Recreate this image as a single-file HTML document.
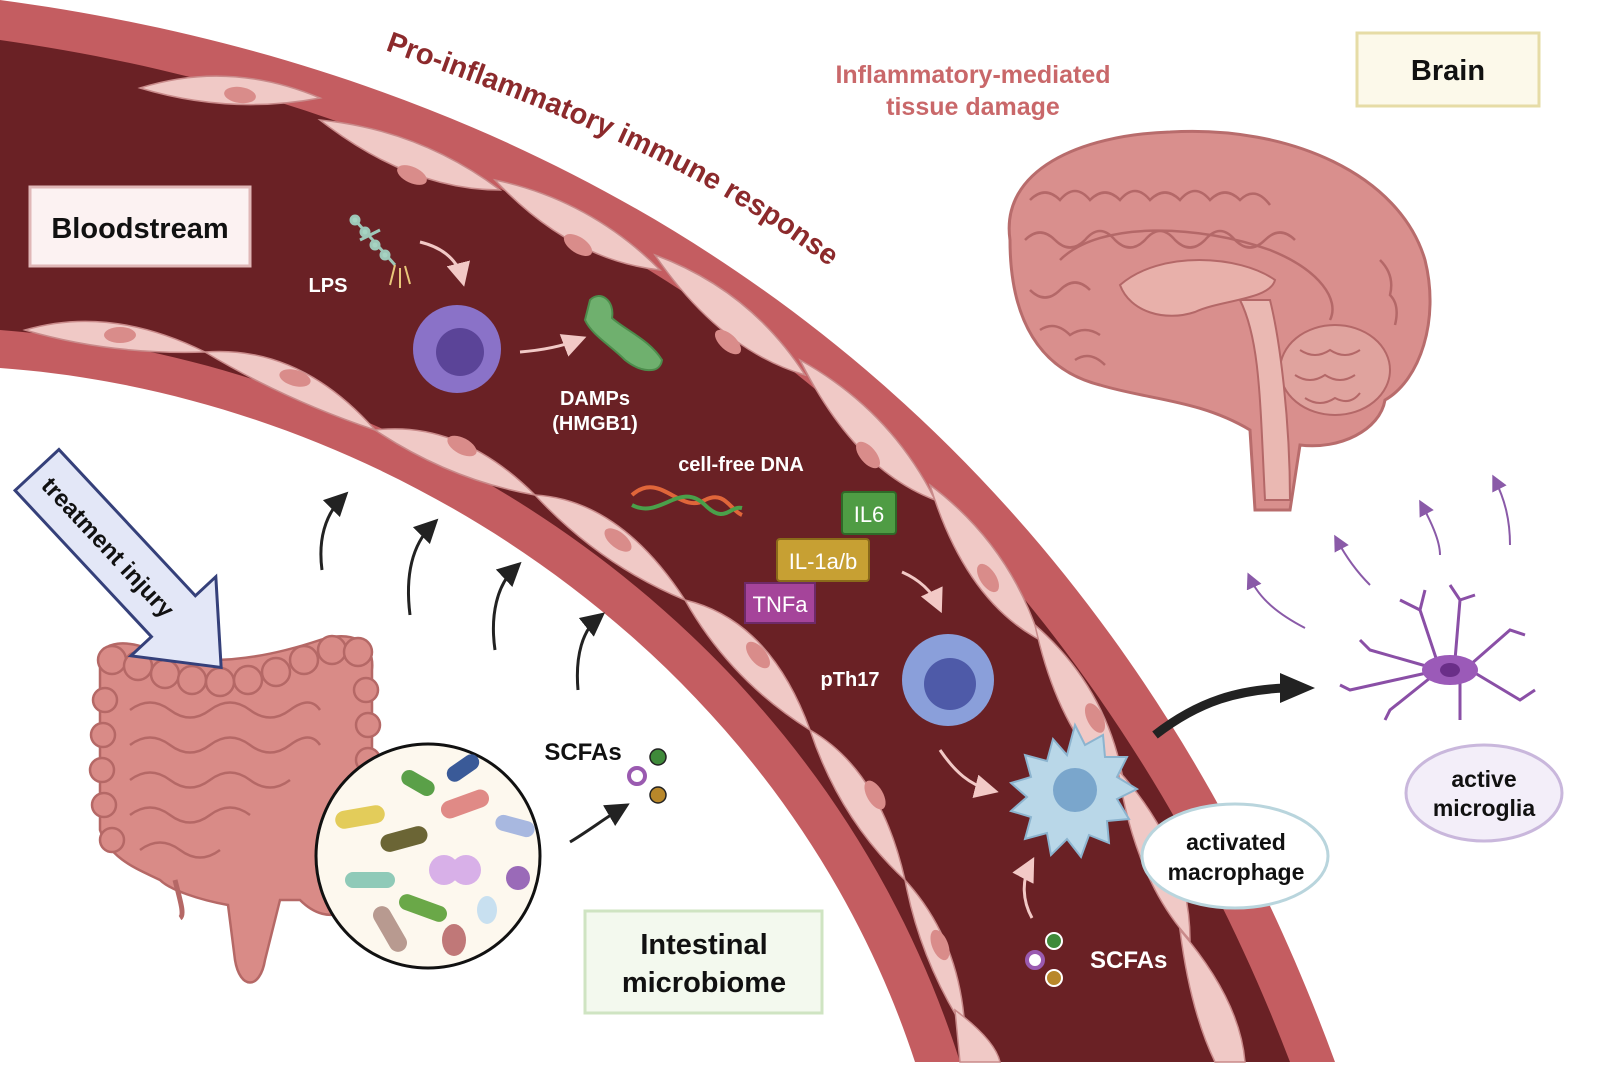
<!DOCTYPE html>
<html><head><meta charset="utf-8"><style>
html,body{margin:0;padding:0;background:#fff;}
svg{display:block;font-family:"Liberation Sans",Arial,sans-serif;}
</style></head><body>
<svg width="1600" height="1088" viewBox="0 0 1600 1088" xmlns="http://www.w3.org/2000/svg">
<defs>
<marker id="ah" markerWidth="8" markerHeight="8" refX="5" refY="4" orient="auto"><path d="M0,0 L8,4 L0,8 Z" fill="#222"/></marker>
<marker id="ahp" markerWidth="8" markerHeight="8" refX="5" refY="4" orient="auto"><path d="M0,0 L8,4 L0,8 Z" fill="#f2c9c6"/></marker>
<marker id="ahv" markerWidth="8" markerHeight="8" refX="5" refY="4" orient="auto"><path d="M0,0 L8,4 L0,8 Z" fill="#8a5aa8"/></marker>
</defs>
<rect width="1600" height="1088" fill="#fff"/>
<!-- vessel wall -->
<path d="M0,0 C600,80 1100,420 1335,1062 L915,1062 C780,650 380,395 0,368 Z" fill="#c45d61"/>
<!-- lumen -->
<path d="M0,40 C570,120 1060,460 1290,1062 L960,1062 C820,620 400,360 0,330 Z" fill="#6a2125"/>
<!-- endothelial cells top -->
<g fill="#f0c9c6" stroke="#c98a8a" stroke-width="1.5">
<path d="M140,88 Q230,60 320,98 Q230,115 140,88 Z"/>
<path d="M320,120 Q420,130 500,190 Q410,190 320,120 Z"/>
<path d="M495,180 Q590,200 660,270 Q570,260 495,180 Z"/>
<path d="M655,255 Q750,290 805,375 Q720,350 655,255 Z"/>
<path d="M800,360 Q890,410 935,500 Q855,470 800,360 Z"/>
<path d="M930,485 Q1010,545 1040,640 Q965,600 930,485 Z"/>
<path d="M1035,625 Q1110,690 1125,790 Q1060,740 1035,625 Z"/>
<path d="M1118,770 Q1190,850 1190,940 Q1135,880 1118,770 Z"/>
<path d="M1180,930 Q1240,1000 1245,1062 L1215,1062 Q1190,1010 1180,930 Z"/>
</g>
<g fill="#d98c8a">
<ellipse cx="240" cy="95" rx="16" ry="8" transform="rotate(8 240 95)"/>
<ellipse cx="412" cy="175" rx="16" ry="8" transform="rotate(25 412 175)"/>
<ellipse cx="578" cy="245" rx="16" ry="8" transform="rotate(33 578 245)"/>
<ellipse cx="728" cy="342" rx="16" ry="8" transform="rotate(42 728 342)"/>
<ellipse cx="868" cy="455" rx="16" ry="8" transform="rotate(50 868 455)"/>
<ellipse cx="988" cy="578" rx="16" ry="8" transform="rotate(57 988 578)"/>
<ellipse cx="1095" cy="718" rx="16" ry="8" transform="rotate(64 1095 718)"/>
<ellipse cx="1165" cy="858" rx="16" ry="8" transform="rotate(70 1165 858)"/>
</g>
<!-- endothelial cells bottom -->
<g fill="#f0c9c6" stroke="#c98a8a" stroke-width="1.5">
<path d="M25,330 Q110,305 205,352 Q110,355 25,330 Z"/>
<path d="M205,352 Q300,345 375,430 Q285,400 205,352 Z"/>
<path d="M375,430 Q460,420 535,495 Q450,480 375,430 Z"/>
<path d="M535,495 Q620,500 685,600 Q600,565 535,495 Z"/>
<path d="M685,600 Q770,620 810,730 Q730,680 685,600 Z"/>
<path d="M810,730 Q880,770 905,880 Q840,820 810,730 Z"/>
<path d="M905,880 Q960,940 965,1030 Q920,960 905,880 Z"/>
<path d="M955,1010 Q995,1040 1000,1062 L960,1062 Z"/>
</g>
<g fill="#d98c8a">
<ellipse cx="120" cy="335" rx="16" ry="8"/>
<ellipse cx="295" cy="378" rx="16" ry="8" transform="rotate(15 295 378)"/>
<ellipse cx="462" cy="446" rx="16" ry="8" transform="rotate(28 462 446)"/>
<ellipse cx="618" cy="540" rx="16" ry="8" transform="rotate(38 618 540)"/>
<ellipse cx="758" cy="655" rx="16" ry="8" transform="rotate(50 758 655)"/>
<ellipse cx="875" cy="795" rx="16" ry="8" transform="rotate(60 875 795)"/>
<ellipse cx="940" cy="945" rx="16" ry="8" transform="rotate(68 940 945)"/>
</g>
<!-- Pro-inflammatory text along curve -->
<path id="tp" d="M385,50 C550,110 720,170 870,300" fill="none"/>
<text font-size="29" font-weight="bold" fill="#8c2a2c"><textPath href="#tp">Pro-inflammatory immune response</textPath></text>
<text x="973" y="83" font-size="25" font-weight="bold" fill="#c9686a" text-anchor="middle">Inflammatory-mediated</text>
<text x="973" y="115" font-size="25" font-weight="bold" fill="#c9686a" text-anchor="middle">tissue damage</text>
<!-- Brain label -->
<rect x="1357" y="33" width="182" height="73" fill="#fcf9ea" stroke="#e6dca6" stroke-width="3"/>
<text x="1448" y="80" font-size="29" font-weight="bold" fill="#111" text-anchor="middle">Brain</text>
<!-- Bloodstream label -->
<rect x="30" y="187" width="220" height="79" fill="#fcf2f2" stroke="#e0b7b7" stroke-width="3"/>
<text x="140" y="238" font-size="29" font-weight="bold" fill="#111" text-anchor="middle">Bloodstream</text>
<!-- Brain -->
<g>
<path d="M1010,240 C1000,170 1080,135 1170,132 C1290,125 1400,175 1425,260 C1440,320 1420,380 1385,400 C1380,430 1340,450 1300,445 L1290,510 L1255,510 L1250,430 C1200,400 1150,400 1100,385 C1040,370 1010,320 1010,240 Z" fill="#d98f8d" stroke="#b86c6c" stroke-width="3"/>
<g stroke="#b46868" stroke-width="2.5" fill="none">
<path d="M1030,200 q15,-15 30,0 q15,-18 30,0 q15,-15 30,0 q15,-18 30,0 q15,-15 30,0 q15,-18 30,0 q15,-15 30,0 q15,-15 30,5"/>
<path d="M1025,240 q15,-15 30,0 q15,15 30,0 q15,-18 30,0 q15,15 30,0 q15,-18 30,0 q15,15 30,0 q15,-18 30,0 q15,15 30,0 q15,-15 30,0"/>
<path d="M1030,290 q15,15 30,0 q15,-15 30,0 M1380,260 q15,15 10,35 q10,10 5,30 M1040,330 q15,-10 30,5 q15,-10 30,0 M1075,360 q15,-10 30,5"/>
<path d="M1060,260 C1100,220 1200,225 1270,250 C1320,270 1340,300 1330,320"/>
</g>
<path d="M1120,285 C1160,250 1240,255 1275,280 C1270,300 1220,300 1195,312 C1165,322 1130,312 1120,285 Z" fill="#e8b0aa" stroke="#b46868" stroke-width="2"/>
<ellipse cx="1335" cy="370" rx="55" ry="45" fill="#e0a39e" stroke="#b46868" stroke-width="2"/>
<path d="M1300,350 q15,10 30,0 q15,10 30,0 M1295,375 q15,10 30,0 q15,10 30,0 M1305,398 q15,10 30,0 q15,8 25,-5" stroke="#b46868" stroke-width="2" fill="none"/>
<path d="M1240,300 C1260,340 1260,400 1265,500 L1290,500 C1290,420 1280,340 1270,300 Z" fill="#eab8b2" stroke="#b46868" stroke-width="2"/>
</g>
<!-- microglia arrows -->
<g stroke="#8a5aa8" stroke-width="2" fill="none" marker-end="url(#ahv)">
<path d="M1305,628 C1280,615 1260,600 1250,578"/>
<path d="M1370,585 C1355,570 1345,555 1337,540"/>
<path d="M1440,555 C1440,540 1430,520 1422,505"/>
<path d="M1510,545 C1510,520 1505,500 1495,480"/>
</g>
<!-- microglia -->
<g stroke="#8a4fa6" stroke-width="3" fill="none">
<path d="M1440,670 L1420,610 L1400,600 M1420,610 L1425,590 M1440,670 L1370,650 L1360,640 M1440,670 L1350,690 L1340,685 M1440,670 L1390,710 L1385,720 M1460,680 L1460,720 M1470,670 L1520,700 L1535,690 M1470,665 L1510,630 L1525,635 M1455,660 L1460,600 L1450,585 M1460,600 L1475,595"/>
</g>
<ellipse cx="1450" cy="670" rx="28" ry="15" fill="#9b5ab8"/>
<ellipse cx="1450" cy="670" rx="10" ry="7" fill="#6a2e88"/>
<ellipse cx="1484" cy="793" rx="78" ry="48" fill="#f3eef9" stroke="#c9b7dc" stroke-width="3"/>
<text x="1484" y="787" font-size="23" font-weight="bold" fill="#111" text-anchor="middle">active</text>
<text x="1484" y="816" font-size="23" font-weight="bold" fill="#111" text-anchor="middle">microglia</text>
<!-- big black arrow -->
<path d="M1155,735 C1200,700 1240,690 1285,688" stroke="#222" stroke-width="9" fill="none"/>
<path d="M1280,673 L1315,688 L1280,703 Z" fill="#222"/>
<!-- LPS -->
<g stroke="#9ec7b8" stroke-width="3" fill="#a6d4c2"><path d="M355,220 L395,265 M360,240 L380,230" fill="none"/><circle cx="355" cy="220" r="4"/><circle cx="365" cy="232" r="4"/><circle cx="375" cy="245" r="4"/><circle cx="385" cy="255" r="4"/></g>
<g stroke="#e8c77a" stroke-width="2" fill="none"><path d="M395,265 l-5,20 M400,268 l0,20 M405,266 l5,18"/></g>
<text x="328" y="292" font-size="20" font-weight="bold" fill="#fff" text-anchor="middle">LPS</text>
<g stroke="#f2c9c6" stroke-width="3" fill="none" marker-end="url(#ahp)">
<path d="M420,242 C445,248 458,262 462,278"/>
<path d="M520,352 C545,350 565,345 578,340"/>
<path d="M902,572 C920,580 932,592 938,605"/>
<path d="M940,750 C955,772 970,785 990,790"/>
<path d="M1032,918 C1022,900 1022,880 1030,865"/>
</g>
<!-- monocyte -->
<circle cx="457" cy="349" r="44" fill="#8a72c8"/>
<circle cx="460" cy="352" r="24" fill="#5b4498"/>
<!-- DAMPs -->
<path d="M590,300 C600,290 615,300 612,318 C625,330 650,340 662,360 C660,375 640,372 625,360 C610,345 592,335 585,320 Z" fill="#6fb06e" stroke="#4d8c4c" stroke-width="2"/>
<text x="595" y="405" font-size="20" font-weight="bold" fill="#fff" text-anchor="middle">DAMPs</text>
<text x="595" y="430" font-size="20" font-weight="bold" fill="#fff" text-anchor="middle">(HMGB1)</text>
<text x="741" y="471" font-size="20" font-weight="bold" fill="#fff" text-anchor="middle">cell-free DNA</text>
<!-- DNA -->
<path d="M632,495 C660,470 680,515 705,500 C725,490 730,510 742,515" stroke="#e0663a" stroke-width="4" fill="none"/>
<path d="M632,505 C660,520 680,480 705,505 C725,525 730,505 742,508" stroke="#4aa04a" stroke-width="4" fill="none"/>
<!-- cytokines -->
<rect x="842" y="492" width="54" height="42" fill="#4f9c44" stroke="#2f6a28" stroke-width="2" rx="3"/>
<text x="869" y="522" font-size="22" fill="#fff" text-anchor="middle">IL6</text>
<rect x="777" y="539" width="92" height="42" fill="#c7a033" stroke="#8a6a1a" stroke-width="2" rx="3"/>
<text x="823" y="569" font-size="22" fill="#fff" text-anchor="middle">IL-1a/b</text>
<rect x="745" y="583" width="70" height="40" fill="#a5449a" stroke="#6e2a68" stroke-width="2"/>
<text x="780" y="612" font-size="22" fill="#fff" text-anchor="middle">TNFa</text>
<!-- pTh17 -->
<circle cx="948" cy="680" r="46" fill="#8a9fda"/>
<circle cx="950" cy="684" r="26" fill="#4e5aa8"/>
<text x="850" y="686" font-size="20" font-weight="bold" fill="#fff" text-anchor="middle">pTh17</text>
<!-- macrophage -->
<path d="M1075,725 l10,20 l18,-10 l2,22 l22,0 l-10,20 l20,12 l-20,10 l12,20 l-22,2 l2,22 l-20,-8 l-8,22 l-14,-18 l-16,16 l-4,-22 l-22,6 l6,-22 l-20,-6 l16,-14 l-16,-14 l20,-6 l-6,-22 l22,6 l6,-22 l14,16 Z" fill="#b9d7e8" stroke="#8cb4cf" stroke-width="2"/>
<circle cx="1075" cy="790" r="22" fill="#7aa6cc"/>
<ellipse cx="1235" cy="856" rx="93" ry="52" fill="#fff" stroke="#b9d5dd" stroke-width="3"/>
<text x="1236" y="850" font-size="23" font-weight="bold" fill="#111" text-anchor="middle">activated</text>
<text x="1236" y="880" font-size="23" font-weight="bold" fill="#111" text-anchor="middle">macrophage</text>
<!-- SCFAs lumen -->
<circle cx="1054" cy="941" r="8" fill="#3f8a3a" stroke="#fff" stroke-width="2"/>
<circle cx="1035" cy="960" r="8" fill="#fff" stroke="#9a5ab0" stroke-width="4"/>
<circle cx="1054" cy="978" r="8" fill="#b8872a" stroke="#fff" stroke-width="2"/>
<text x="1090" y="968" font-size="24" font-weight="bold" fill="#fff">SCFAs</text>
<!-- black upward arrows -->
<g stroke="#222" stroke-width="3" fill="none" marker-end="url(#ah)">
<path d="M322,570 C318,540 325,515 342,498"/>
<path d="M410,615 C405,575 412,545 432,525"/>
<path d="M495,650 C490,615 497,585 515,568"/>
<path d="M578,690 C575,655 583,630 598,618"/>
<path d="M570,842 C590,830 605,818 622,808"/>
</g>
<!-- intestine -->
<g fill="#d98b87" stroke="#b56866" stroke-width="2.5">
<path d="M100,660 C100,640 130,640 150,650 C200,668 260,660 320,640 C350,630 375,640 372,670 L372,880 C360,910 330,930 300,900 L280,900 L265,960 C260,990 240,990 235,960 L228,905 C200,900 170,890 160,880 C140,870 110,860 100,830 Z"/>
<circle cx="112" cy="660" r="14"/><circle cx="138" cy="666" r="14"/><circle cx="165" cy="674" r="14"/><circle cx="192" cy="680" r="14"/><circle cx="220" cy="682" r="14"/><circle cx="248" cy="680" r="14"/><circle cx="276" cy="672" r="14"/><circle cx="304" cy="660" r="14"/><circle cx="332" cy="650" r="14"/><circle cx="358" cy="652" r="14"/>
<circle cx="105" cy="700" r="12"/><circle cx="103" cy="735" r="12"/><circle cx="102" cy="770" r="12"/><circle cx="104" cy="805" r="12"/><circle cx="112" cy="840" r="12"/>
<circle cx="366" cy="690" r="12"/><circle cx="368" cy="725" r="12"/><circle cx="368" cy="760" r="12"/><circle cx="366" cy="795" r="12"/><circle cx="362" cy="830" r="12"/><circle cx="355" cy="865" r="12"/>
</g>
<path d="M175,880 C180,900 185,915 180,918" stroke="#b56866" stroke-width="5" fill="none"/>
<g stroke="#b56866" stroke-width="2.5" fill="none">
<path d="M130,710 q20,-15 40,0 q20,15 40,0 q20,-15 40,0 q20,15 40,0 q20,-15 30,0"/>
<path d="M130,745 q20,-15 40,0 q20,15 40,0 q20,-15 40,0 q20,15 40,0 q20,-15 30,0"/>
<path d="M130,780 q20,-15 40,0 q20,15 40,0 q20,-15 40,0 q20,15 40,0"/>
<path d="M130,815 q20,-15 40,0 q20,15 40,0 q20,-15 40,0"/>
<path d="M140,850 q20,-15 40,0 q20,15 40,0"/>
</g>
<!-- treatment injury arrow -->
<g transform="translate(37,470) rotate(47)">
<path d="M0,-30 L200,-30 L200,-58 L270,0 L200,58 L200,30 L0,30 Z" fill="#e3e7f7" stroke="#35407a" stroke-width="3"/>
<text x="105" y="9" font-size="24" font-weight="bold" fill="#111" text-anchor="middle">treatment injury</text>
</g>
<!-- microbiome circle -->
<circle cx="428" cy="856" r="112" fill="#fdf8ee" stroke="#111" stroke-width="3"/>
<g>
<rect x="335" y="808" width="50" height="18" rx="9" fill="#e3cc5a" transform="rotate(-10 360 817)"/>
<rect x="380" y="830" width="48" height="18" rx="9" fill="#6b6535" transform="rotate(-15 404 839)"/>
<rect x="400" y="775" width="36" height="16" rx="8" fill="#5aa048" transform="rotate(30 418 783)"/>
<rect x="440" y="795" width="50" height="18" rx="9" fill="#e08a86" transform="rotate(-20 465 804)"/>
<rect x="445" y="760" width="36" height="16" rx="8" fill="#3a5a98" transform="rotate(-35 463 768)"/>
<rect x="495" y="818" width="40" height="16" rx="8" fill="#a8b8e0" transform="rotate(15 515 826)"/>
<rect x="345" y="872" width="50" height="16" rx="8" fill="#8fcab8"/>
<rect x="398" y="900" width="50" height="16" rx="8" fill="#6aa848" transform="rotate(20 423 908)"/>
<rect x="365" y="920" width="50" height="18" rx="9" fill="#b89a90" transform="rotate(60 390 929)"/>
<circle cx="444" cy="870" r="15" fill="#d8b0e8"/><circle cx="466" cy="870" r="15" fill="#d8b0e8"/>
<ellipse cx="487" cy="910" rx="10" ry="14" fill="#c8e0f0"/>
<ellipse cx="454" cy="940" rx="12" ry="16" fill="#c07878"/>
<circle cx="518" cy="878" r="12" fill="#9a6ab8"/>
</g>
<text x="583" y="760" font-size="24" font-weight="bold" fill="#111" text-anchor="middle">SCFAs</text>
<circle cx="658" cy="757" r="8" fill="#3f8a3a" stroke="#222" stroke-width="1.5"/>
<circle cx="637" cy="776" r="8" fill="#fff" stroke="#9a5ab0" stroke-width="4"/>
<circle cx="658" cy="795" r="8" fill="#b8872a" stroke="#222" stroke-width="1.5"/>
<!-- intestinal microbiome label -->
<rect x="585" y="911" width="237" height="102" fill="#f3f9ee" stroke="#cfe4c2" stroke-width="3"/>
<text x="704" y="954" font-size="29" font-weight="bold" fill="#111" text-anchor="middle">Intestinal</text>
<text x="704" y="992" font-size="29" font-weight="bold" fill="#111" text-anchor="middle">microbiome</text>
</svg>
</body></html>
